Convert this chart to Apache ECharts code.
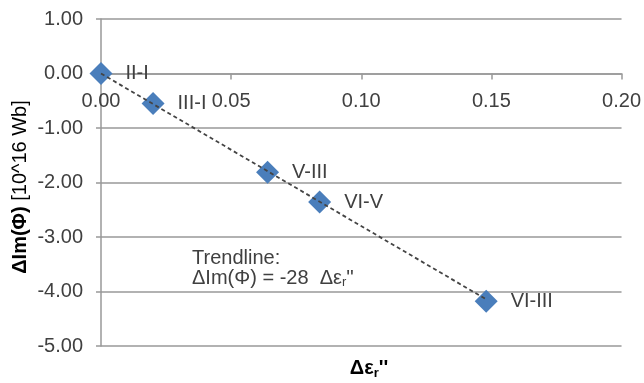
<!DOCTYPE html>
<html>
<head>
<meta charset="utf-8">
<script src="https://cdn.jsdelivr.net/npm/echarts@6/dist/echarts.min.js"></script>
<style>
  html, body { margin: 0; padding: 0; background: #fff; }
  #chart { width: 644px; height: 383px; }
</style>
</head>
<body>
<div id="chart"></div>
<script>
// 数据
var pairNames = ['II-I', 'III-I', 'V-III', 'VI-V', 'VI-III'];
var deltaEps = [0, 0.020, 0.064, 0.084, 0.148];
var deltaIm = [0, -0.55, -1.81, -2.36, -4.18];
var trendSlope = -28;
var trendX = [0, 0.148];

var font = "'Liberation Sans', Arial, sans-serif";
var points = deltaEps.map(function (x, i) { return { name: pairNames[i], value: [x, deltaIm[i]] }; });
var trendData = trendX.map(function (x) { return [x, trendSlope * x]; });

var myChart = echarts.init(document.getElementById('chart'));
var option = {
  animation: false,
  grid: { left: 101, right: 20, top: 19, bottom: 37 },
  xAxis: {
    type: 'value',
    min: 0, max: 0.2, interval: 0.05,
    position: 'bottom',
    offset: -272.5, // x轴放在 y=0 处
    axisLine: { onZero: false, lineStyle: { color: '#999', width: 1.5 } },
    axisTick: { show: true, length: 6, lineStyle: { color: '#999', width: 1.5 } },
    axisLabel: { color: '#404040', fontSize: 20, fontFamily: font, margin: 18,
      formatter: function (v) { return v.toFixed(2); } },
    splitLine: { show: false }
  },
  yAxis: {
    type: 'value',
    min: -5, max: 1, interval: 1,
    axisLine: { show: true, onZero: false, lineStyle: { color: '#999', width: 1.5 } },
    axisTick: { show: true, length: 5, lineStyle: { color: '#999', width: 1.5 } },
    axisLabel: { color: '#404040', fontSize: 20, fontFamily: font, margin: 18,
      formatter: function (v) { return v.toFixed(2); } },
    splitLine: { show: true, lineStyle: { color: '#999', width: 1.5 } }
  },
  graphic: [
    {
      type: 'text', x: 20, y: 187, rotation: Math.PI / 2,
      style: {
        text: '{b|ΔIm(Φ)} [10^16 Wb]',
        align: 'center', verticalAlign: 'middle',
        fill: '#000', font: '20px ' + font,
        rich: { b: { fontWeight: 'bold', fontSize: 20, fontFamily: font } }
      }
    },
    {
      type: 'text', x: 369, y: 368,
      style: {
        text: '{b|Δε}{s|r}{b|\'\'}',
        align: 'center', verticalAlign: 'middle',
        fill: '#000', font: 'bold 20px ' + font,
        rich: {
          b: { fontWeight: 'bold', fontSize: 20, fontFamily: font, lineHeight: 24 },
          s: { fontWeight: 'bold', fontSize: 13, fontFamily: font, padding: [10, 0, 0, 0], lineHeight: 24 }
        }
      }
    },
    {
      type: 'text', x: 192, y: 248,
      style: {
        text: 'Trendline:\nΔIm(Φ) = -28  Δε{s|r}\'\'',
        fill: '#404040', font: '20px ' + font, lineHeight: 20,
        rich: { s: { fontSize: 13, fontFamily: font, padding: [9, 0, 0, 0], fill: '#404040' } }
      }
    }
  ],
  series: [
    {
      type: 'line',
      data: trendData,
      showSymbol: false,
      symbol: 'none',
      lineStyle: { color: '#444', width: 1.8, type: [4, 3] },
      z: 3
    },
    {
      type: 'scatter',
      data: points,
      symbol: 'diamond',
      symbolSize: 23,
      itemStyle: { color: '#4A7EBB', opacity: 1 },
      label: {
        show: true, position: 'right', distance: 13,
        formatter: '{b}', color: '#404040', fontSize: 20, fontFamily: font
      },
      z: 2
    }
  ]
};
myChart.setOption(option);
window.addEventListener('resize', myChart.resize);
</script>
</body>
</html>
